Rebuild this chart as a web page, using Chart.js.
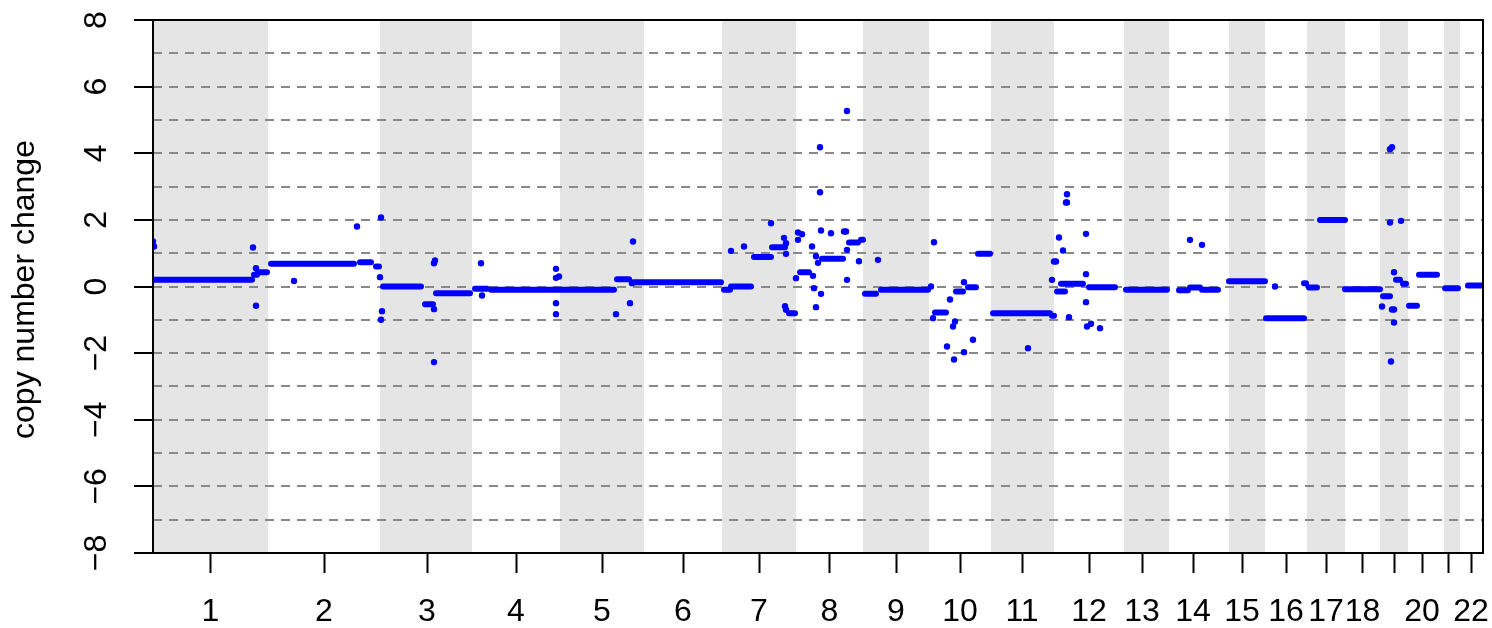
<!DOCTYPE html>
<html>
<head>
<meta charset="utf-8">
<script src="https://cdn.jsdelivr.net/npm/chart.js@4.4.1/dist/chart.umd.min.js"></script>
<style>
  html, body { margin: 0; padding: 0; background: #fff; }
  canvas { display: block; }
</style>
</head>
<body>
<canvas id="cnChart" width="1492" height="628"></canvas>
<script>
// chromosome layout along the genome axis (marker index units)
const chromNames = ['1','2','3','4','5','6','7','8','9','10','11','12','13','14','15','16','17','18','19','20','21','22'];
const chromBounds = [0, 115, 227, 319, 407, 491, 569, 643, 710, 776, 838, 901, 971, 1016, 1076, 1112, 1154, 1192, 1227, 1255, 1291, 1307, 1330];
const chromTicks = [57.5, 171, 274, 363, 449, 530, 606, 676.5, 743, 807, 869, 936, 989, 1040, 1089, 1133, 1173, 1209.5, 1241, 1269, 1295, 1318];
// R drops the labels that would overlap
const tickLabels = ['1','2','3','4','5','6','7','8','9','10','11','12','13','14','15','16','17','18','','20','','22'];
const yTicks = [-8, -6, -4, -2, 0, 2, 4, 6, 8];
const yGrid = [-8, -7, -6, -5, -4, -3, -2, -1, 0, 1, 2, 3, 4, 5, 6, 7, 8];

// segmented copy number (start, end, level)
const segStart = [1, 101, 105, 118, 207, 223, 230, 272, 283, 322, 338, 464, 480,
  571, 578, 601, 619, 636, 647, 669, 696, 708, 712, 728, 782, 803, 815, 825,
  840, 899, 904, 908, 936, 973, 1026, 1037, 1049, 1076, 1113, 1151, 1156, 1167,
  1192, 1230, 1243, 1250, 1256, 1266, 1292, 1315];
const segEnd = [99, 104, 114, 201, 218, 226, 268, 280, 317, 334, 461, 476, 568,
  577, 598, 618, 632, 642, 656, 690, 705, 710, 723, 775, 793, 810, 823, 837,
  897, 901, 912, 930, 962, 1014, 1035, 1047, 1065, 1112, 1151, 1153, 1164, 1192,
  1227, 1237, 1247, 1253, 1264, 1284, 1305, 1330];
const segValue = [0.2, 0.35, 0.43, 0.68, 0.73, 0.6, 0.0, -0.53, -0.2, -0.07, -0.1, 0.22, 0.125,
  -0.1, 0.0, 0.885, 1.18, -0.8, 0.43, 0.83, 1.32, 1.4, -0.22, -0.1, -0.78, -0.15, -0.02, 0.98,
  -0.8, -0.88, -0.15, 0.08, -0.02, -0.1, -0.11, -0.03, -0.1, 0.16, -0.95, 0.1, -0.03, 2.0,
  -0.08, -0.29, 0.2, 0.08, -0.58, 0.35, -0.05, 0.03];

// single markers away from the segments
const pointX = [0, 1, 100, 103, 103,
  141, 204, 228, 227,
  229, 228, 281, 281, 282, 281,
  329, 328, 403, 403, 406, 403, 403,
  480, 477, 463, 479,
  578, 591, 618, 631, 633, 633, 632, 633,
  645, 649, 645, 643, 660, 659, 663, 665, 661, 668, 663, 667, 667, 694, 668, 678, 691, 693, 694, 694, 706,
  725, 778, 781,
  780, 797, 800, 802, 794, 801, 811, 820, 811,
  875,
  899, 901, 903, 906, 910, 913, 914, 914, 916, 933, 933, 933, 934, 938, 947,
  1037, 1049,
  1122,
  1229, 1239, 1241, 1241, 1238, 1237, 1248, 1237, 1239, 1241];
const pointY = [1.35, 1.2, 1.17, 0.55, -0.58,
  0.165, 1.8, 2.07, 0.28,
  -0.74, -1.0, -0.68, 0.7, 0.78, -2.27,
  -0.27, 0.7, 0.53, 0.26, 0.3, -0.5, -0.83,
  1.35, -0.5, -0.83, 0.1,
  1.07, 1.2, 1.9, 1.46, 1.3, 0.98, -0.59, -0.7,
  1.62, 1.57, 1.4, 0.25, 0.32, 1.2, 0.91, 0.71, -0.05, -0.22, -0.62, 2.83, 4.18, 5.27, 1.68, 1.6, 1.65, 1.65, 1.1, 0.2, 0.76,
  0.8, 0.0, 1.33,
  -0.95, -0.39, -1.2, -1.05, -1.8, -2.19, -1.97, -1.6, 0.13,
  -1.85,
  0.2, 0.75, 0.75, 1.47, 1.08, 2.52, 2.52, 2.77, -0.92, 1.58, 0.37, -0.47, -1.2, -1.12, -1.25,
  1.4, 1.25,
  0.0,
  -0.6, -0.69, -0.69, -1.08, -2.25, 1.92, 1.97, 4.12, 4.18, 0.43];

const FONT = '"Liberation Sans", Arial, Helvetica, sans-serif';

const segData = [];
segStart.forEach(function(s, i) {
  segData.push({x: s, y: segValue[i]}, {x: segEnd[i], y: segValue[i]}, {x: segEnd[i], y: null});
});
const pointData = pointX.map(function(x, i) { return {x: x, y: pointY[i]}; });

const backdrop = {
  id: 'backdrop',
  beforeDraw: function(chart) {
    const ctx = chart.ctx, a = chart.chartArea, x = chart.scales.x;
    ctx.save();
    ctx.fillStyle = '#e5e5e5';
    for (let i = 0; i < chromNames.length; i += 2) {
      const x0 = x.getPixelForValue(chromBounds[i]);
      const x1 = x.getPixelForValue(chromBounds[i + 1]);
      ctx.fillRect(x0, a.top, x1 - x0, a.bottom - a.top);
    }
    ctx.restore();
  },
  afterDraw: function(chart) {
    const ctx = chart.ctx, a = chart.chartArea, x = chart.scales.x, y = chart.scales.y;
    ctx.save();
    ctx.strokeStyle = '#000';
    ctx.lineWidth = 2;
    ctx.strokeRect(a.left, a.top, a.right - a.left, a.bottom - a.top);

    ctx.fillStyle = '#000';
    ctx.font = '32px ' + FONT;
    ctx.textAlign = 'center';
    ctx.textBaseline = 'middle';
    chromTicks.forEach(function(t, i) {
      if (tickLabels[i]) ctx.fillText(tickLabels[i], x.getPixelForValue(t), 612);
    });
    yTicks.forEach(function(v) {
      ctx.save();
      ctx.translate(97, y.getPixelForValue(v));
      ctx.rotate(-Math.PI / 2);
      ctx.fillText(String(v).replace('-', '\u2212'), 0, 0);
      ctx.restore();
    });
    ctx.translate(25, (a.top + a.bottom) / 2 + 3);
    ctx.rotate(-Math.PI / 2);
    ctx.fillText('copy number change', 0, 0);
    ctx.restore();
  }
};

new Chart(document.getElementById('cnChart'), {
  type: 'scatter',
  data: {
    datasets: [{
      data: segData,
      showLine: true,
      spanGaps: false,
      borderColor: '#0000ff',
      borderWidth: 6,
      borderCapStyle: 'round',
      borderJoinStyle: 'round',
      pointRadius: 0,
      clip: 0
    }, {
      data: pointData,
      pointRadius: 3.2,
      pointBackgroundColor: '#0000ff',
      pointBorderWidth: 0,
      clip: 0
    }]
  },
  options: {
    responsive: false,
    animation: false,
    devicePixelRatio: 1,
    layout: { padding: { top: 20, right: 9, left: 0, bottom: 0 } },
    plugins: { legend: { display: false }, tooltip: { enabled: false } },
    scales: {
      x: {
        type: 'linear',
        min: 0,
        max: 1330,
        afterBuildTicks: function(s) { s.ticks = chromTicks.map(function(v) { return {value: v}; }); },
        afterFit: function(s) { s.height = 75; },
        ticks: { display: false },
        grid: { drawOnChartArea: false, drawTicks: true, tickLength: 20, tickColor: '#000', tickWidth: 2 },
        border: { display: false }
      },
      y: {
        min: -8,
        max: 8,
        afterBuildTicks: function(s) { s.ticks = yGrid.map(function(v) { return {value: v}; }); },
        afterFit: function(s) { s.width = 153; },
        ticks: { display: false },
        grid: {
          color: '#888',
          lineWidth: 2,
          drawTicks: true,
          tickLength: 19,
          tickWidth: 2,
          tickColor: function(c) { return c.tick && c.tick.value % 2 === 0 ? '#000' : 'rgba(0,0,0,0)'; }
        },
        border: { display: false, dash: [9, 7] }
      }
    }
  },
  plugins: [backdrop]
});
</script>
</body>
</html>
